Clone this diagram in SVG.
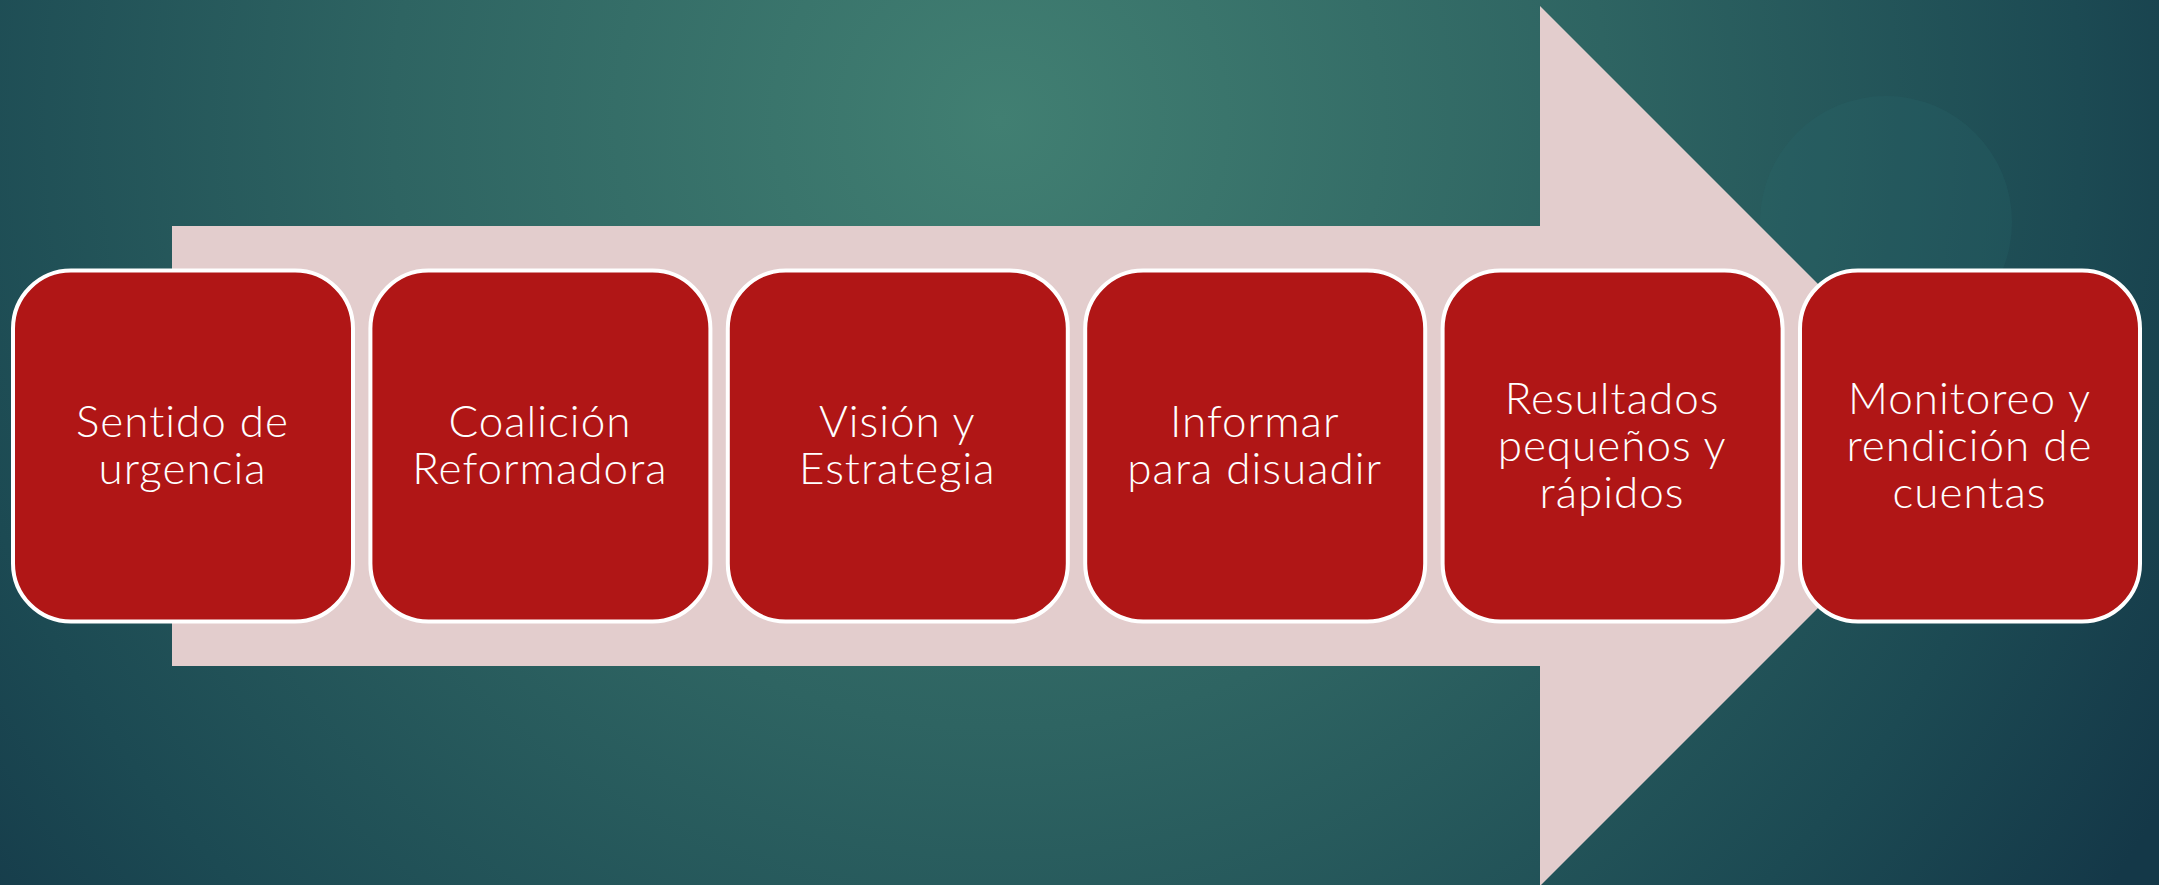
<svg xmlns="http://www.w3.org/2000/svg" width="2159" height="885" viewBox="0 0 2159 885">
  <defs>
    <radialGradient id="bg" cx="1000" cy="120" r="1350" gradientUnits="userSpaceOnUse">
      <stop offset="0" stop-color="#417f72"/>
      <stop offset="0.45" stop-color="#2e6462"/>
      <stop offset="0.8" stop-color="#1c4a53"/>
      <stop offset="1" stop-color="#143848"/>
    </radialGradient>
    <style>
      .box { fill: #b01616; stroke: #ffffff; stroke-width: 4; }
      .lbl { font-family: "Century Gothic", "Lato", "Liberation Sans", sans-serif; font-weight: 300; font-size: 44px; letter-spacing: 1px; fill: #ffffff; text-anchor: middle; }
    </style>
  </defs>
  <rect x="0" y="0" width="2159" height="885" fill="url(#bg)"/>
  <circle cx="1886" cy="222" r="126" fill="#2a6a6c" opacity="0.24"/>
  <g id="connectors">
    <polygon id="arrow" points="172,226 1540,226 1540,6 1980,446 1540,886 1540,666 172,666" fill="#e3cdcd"/>
  </g>
  <g id="node1">
    <rect class="box" x="13" y="270.5" width="340" height="351" rx="58" ry="58"/>
    <text class="lbl" x="182.5" y="437">Sentido de</text>
    <text class="lbl" x="182.5" y="484">urgencia</text>
  </g>
  <g id="node2">
    <rect class="box" x="370.4" y="270.5" width="340" height="351" rx="58" ry="58"/>
    <text class="lbl" x="539.9" y="437">Coalición</text>
    <text class="lbl" x="539.9" y="484">Reformadora</text>
  </g>
  <g id="node3">
    <rect class="box" x="727.8" y="270.5" width="340" height="351" rx="58" ry="58"/>
    <text class="lbl" x="897.3" y="437">Visión y</text>
    <text class="lbl" x="897.3" y="484">Estrategia</text>
  </g>
  <g id="node4">
    <rect class="box" x="1085.2" y="270.5" width="340" height="351" rx="58" ry="58"/>
    <text class="lbl" x="1254.7" y="437">Informar</text>
    <text class="lbl" x="1254.7" y="484">para disuadir</text>
  </g>
  <g id="node5">
    <rect class="box" x="1442.6" y="270.5" width="340" height="351" rx="58" ry="58"/>
    <text class="lbl" x="1612.1" y="414">Resultados</text>
    <text class="lbl" x="1612.1" y="461">pequeños y</text>
    <text class="lbl" x="1612.1" y="508">rápidos</text>
  </g>
  <g id="node6">
    <rect class="box" x="1800" y="270.5" width="340" height="351" rx="58" ry="58"/>
    <text class="lbl" x="1969.5" y="414">Monitoreo y</text>
    <text class="lbl" x="1969.5" y="461">rendición de</text>
    <text class="lbl" x="1969.5" y="508">cuentas</text>
  </g>
</svg>
